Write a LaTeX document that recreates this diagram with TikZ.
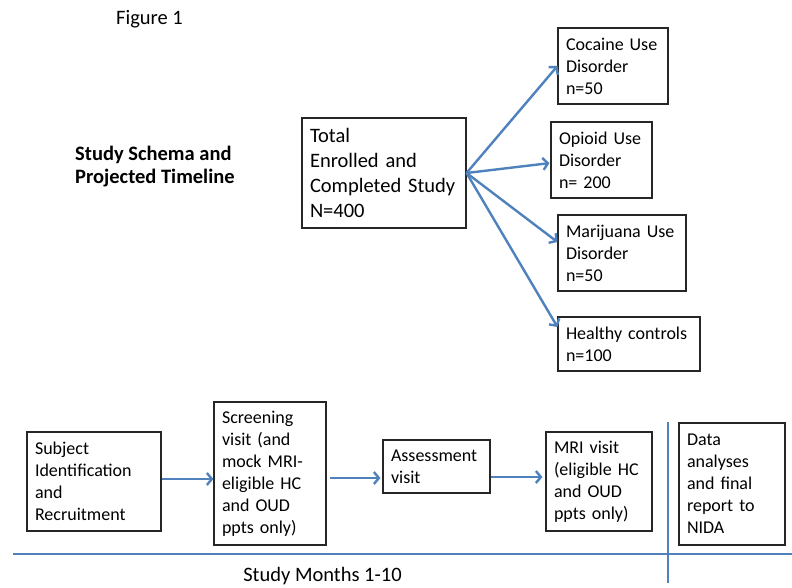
\documentclass[tikz,border=0pt]{standalone}
\usepackage{fontspec}
\setmainfont{Carlito}
\usetikzlibrary{arrows.meta,calc}
\definecolor{arrowblue}{RGB}{79,129,189}
\begin{document}
\begin{tikzpicture}[x=1pt,y=-1pt,
  box/.style={draw=black!85, line width=1.1pt, rectangle, inner xsep=8pt, inner ysep=0pt, align=left, font=\fontsize{18}{22}\selectfont},
  link/.style={draw=arrowblue, line width=2.4pt, -{Straight Barb[length=5pt,width=12pt]}},
  tline/.style={draw=arrowblue, line width=2.6pt},
  plain/.style={inner sep=0pt, font=\fontsize{20.5}{25}\selectfont}]
\useasboundingbox (0,0) rectangle (792,588);
% titles
\node[plain, anchor=west] (fig) at (116,19) {Figure 1};
\node[plain, anchor=west, align=left, font=\fontsize{20.5}{23}\selectfont\bfseries] (title) at (75,166.5) {Study Schema and\\Projected Timeline};
% top tree
\node[box, font=\fontsize{20.5}{25}\selectfont, minimum width=164pt, text width=148pt, minimum height=110pt] (tot) at (384,173) {Total\\Enrolled and\\Completed Study\\N=400};
\node[box, minimum width=110pt, text width=94pt, minimum height=76pt] (coc) at (613,66) {Cocaine Use\\Disorder\\n=50};
\node[box, minimum width=101pt, text width=85pt, minimum height=76pt] (opi) at (601.5,160) {Opioid Use\\Disorder\\n= 200};
\node[box, minimum width=128pt, text width=112pt, minimum height=76pt] (mar) at (622,253) {Marijuana Use\\Disorder\\n=50};
\node[box, minimum width=142pt, text width=126pt, minimum height=54pt] (hea) at (629,344) {Healthy controls\\n=100};
\draw[link] (tot.east) -- (coc.west);
\draw[link, shorten >=1pt] (tot.east) -- ([yshift=-3pt]opi.west);
\draw[link] (tot.east) -- ([yshift=11pt]mar.west);
\draw[link] (tot.east) -- ([yshift=17pt]hea.west);
% timeline
\node[box, minimum width=134pt, text width=118pt, minimum height=99pt] (sub) at (94,481.5) {Subject\\Identification\\and\\Recruitment};
\node[box, minimum width=112pt, text width=96pt, minimum height=143pt] (scr) at (270,473.5) {Screening\\visit (and\\mock MRI-\\eligible HC\\and OUD\\ppts only)};
\node[box, minimum width=107pt, text width=91pt, minimum height=53pt] (ass) at (436.5,466.5) {Assessment\\visit};
\node[box, minimum width=106pt, text width=90pt, minimum height=99pt] (mri) at (599,481.5) {MRI visit\\(eligible HC\\and OUD\\ppts only)};
\node[box, minimum width=106pt, text width=90pt, minimum height=122pt] (dat) at (732,484) {Data\\analyses\\and final\\report to\\NIDA};
\draw[link] ([yshift=2.5pt]sub.east) -- ([yshift=2.5pt]sub.east -| scr.west);
\draw[link, shorten >=2pt] ([xshift=3pt,yshift=-4.5pt]scr.east) -- ([yshift=-4.5pt]scr.east -| ass.west);
\draw[link, shorten >=3pt] ([yshift=-10.5pt]ass.east) -- ([yshift=-10.5pt]ass.east -| mri.west);
\coordinate (hl) at (13,554);
\coordinate (hr) at (792,554);
\coordinate (vt) at (668,422);
\coordinate (vb) at (668,583);
\draw[tline] (hl) -- (hr);
\draw[tline] (vt) -- (vb);
\node[plain] (months) at (322.5,576.5) {Study Months 1-10};
\end{tikzpicture}
\end{document}
